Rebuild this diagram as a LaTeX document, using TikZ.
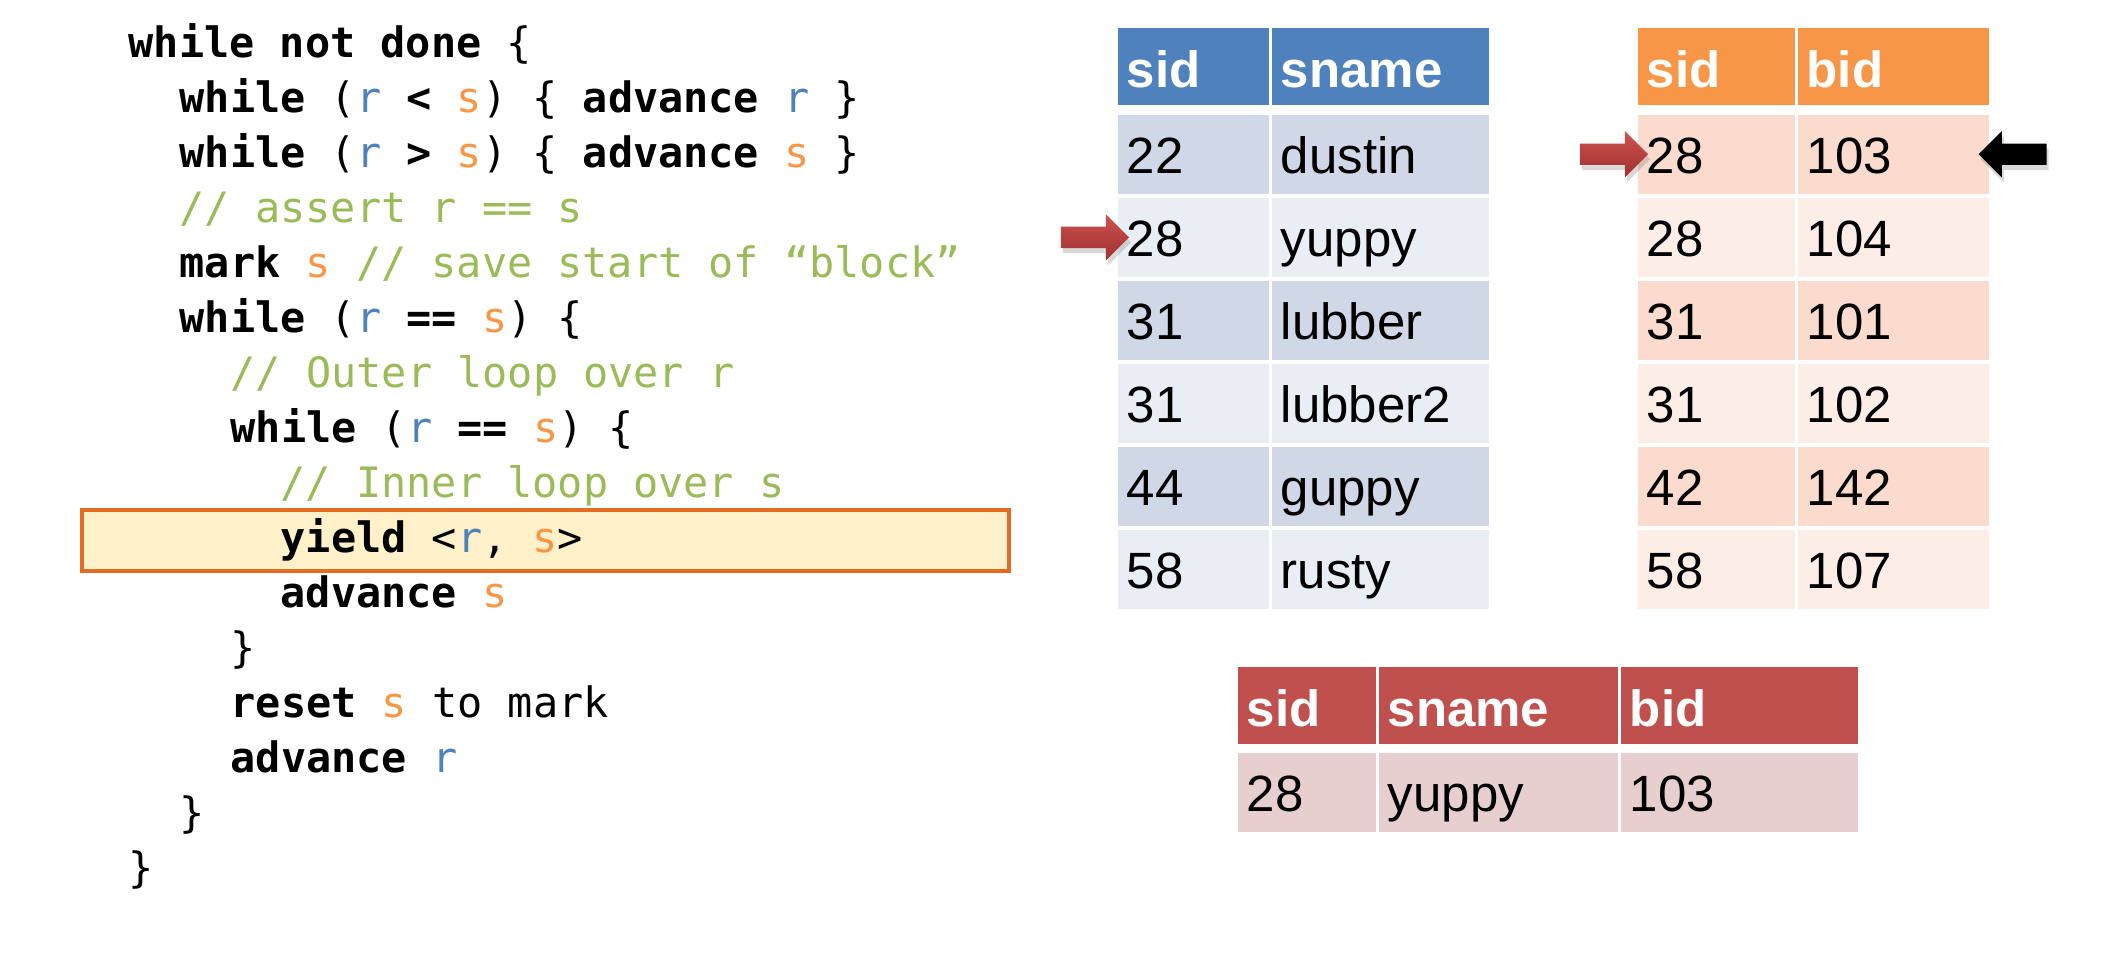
\documentclass[tikz,border=0pt]{standalone}
\usepackage{fontspec}
\setmainfont{Liberation Sans}
\newfontfamily\codefont{DejaVu Sans Mono}
\usetikzlibrary{matrix,positioning,shapes.arrows,shadows}

\definecolor{sailHead}{HTML}{4F81BD}
\definecolor{sailDark}{HTML}{D0D8E8}
\definecolor{sailLight}{HTML}{E9EDF4}
\definecolor{resHead}{HTML}{F79646}
\definecolor{resDark}{HTML}{FADBCD}
\definecolor{resLight}{HTML}{FCEDE7}
\definecolor{joinHead}{HTML}{C0504D}
\definecolor{joinRow}{HTML}{E7CFCF}
\definecolor{rBlue}{HTML}{4F81BD}
\definecolor{sOrange}{HTML}{F79646}
\definecolor{cmtGreen}{HTML}{9BBB59}
\definecolor{boxFill}{HTML}{FEF0C9}
\definecolor{boxLine}{HTML}{E46C22}
\definecolor{ptrTop}{HTML}{CB5350}
\definecolor{ptrBot}{HTML}{A0302E}

\newcommand{\kw}[1]{\textbf{#1}}
\newcommand{\rvar}[1]{\textcolor{rBlue}{#1}}
\newcommand{\svar}[1]{\textcolor{sOrange}{#1}}
\newcommand{\cmt}[1]{\textcolor{cmtGreen}{#1}}
\newcommand{\tabfont}{\fontsize{14.5pt}{17pt}\selectfont}

\tikzset{
  code/.style={anchor=base west, inner sep=0pt,
               font=\codefont\fontsize{11.9pt}{14pt}\selectfont},
  yieldbox/.style={fill=boxFill, draw=boxLine, line width=0.9pt},
  cell/.style={inner xsep=0.09cm, inner ysep=0pt, text height=0.40cm,
               text depth=0.02cm, minimum height=0.79cm, align=left,
               font=\tabfont},
  dbtable/.style n args={3}{matrix of nodes, anchor=north west,
               inner sep=0pt, column sep=0.03cm, row sep=0.04cm,
               nodes={cell, fill=#3},
               row 1/.style={nodes={fill=#1, text=white, minimum height=0.77cm,
                             text height=0.44cm, font=\tabfont\bfseries}},
               every even row/.style={nodes={fill=#2}}},
  ptr/.style={single arrow, anchor=tip, inner sep=0.1cm,
              single arrow head extend=0.125cm, minimum height=0.68cm,
              drop shadow={shadow xshift=0.02cm, shadow yshift=-0.05cm,
                           opacity=0.3}},
  redptr/.style={ptr, top color=ptrTop, bottom color=ptrBot},
  blackptr/.style={ptr, fill=black, shape border rotate=180}
}

\begin{document}
\begin{tikzpicture}[x=0.01cm, y=-0.01cm]
\useasboundingbox (0,0) rectangle (2106,974);

% merge join code
\draw[yieldbox] (82,510) rectangle (1009,571);
\node[code] (l1) at (128,58) {\kw{while not done} \{};
\node[code] (l2) at (179,113) {\kw{while} (\rvar{r} \kw{<} \svar{s}) \{ \kw{advance} \rvar{r} \}};
\node[code] (l3) at (179,168) {\kw{while} (\rvar{r} \kw{>} \svar{s}) \{ \kw{advance} \svar{s} \}};
\node[code] (l4) at (179,223) {\cmt{// assert r == s}};
\node[code] (l5) at (179,278) {\kw{mark} \svar{s} \cmt{// save start of “block”}};
\node[code] (l6) at (179,333) {\kw{while} (\rvar{r} \kw{==} \svar{s}) \{};
\node[code] (l7) at (230,388) {\cmt{// Outer loop over r}};
\node[code] (l8) at (230,443) {\kw{while} (\rvar{r} \kw{==} \svar{s}) \{};
\node[code] (l9) at (280,498) {\cmt{// Inner loop over s}};
\node[code] (l10) at (280,553) {\kw{yield} <\rvar{r}, \svar{s}>};
\node[code] (l11) at (280,608) {\kw{advance} \svar{s}};
\node[code] (l12) at (230,663) {\}};
\node[code] (l13) at (230,718) {\kw{reset} \svar{s} to mark};
\node[code] (l14) at (230,773) {\kw{advance} \rvar{r}};
\node[code] (l15) at (179,828) {\}};
\node[code] (l16) at (128,883) {\}};

% relations
\matrix (sailors) [dbtable={sailHead}{sailDark}{sailLight},
  column 1/.style={nodes={text width=1.33cm}},
  column 2/.style={nodes={text width=1.99cm}}] at (1117,27) {
  sid & sname \\[0.06cm]
  22 & dustin \\
  28 & yuppy \\
  31 & lubber \\
  31 & lubber2 \\
  44 & guppy \\
  58 & rusty \\
};
\matrix (reserves) [dbtable={resHead}{resDark}{resLight},
  column 1/.style={nodes={text width=1.39cm}},
  column 2/.style={nodes={text width=1.73cm}}] at (1637,27) {
  sid & bid \\[0.06cm]
  28 & 103 \\
  28 & 104 \\
  31 & 101 \\
  31 & 102 \\
  42 & 142 \\
  58 & 107 \\
};
\matrix (joined) [dbtable={joinHead}{joinRow}{joinRow},
  column 1/.style={nodes={text width=1.20cm}},
  column 2/.style={nodes={text width=2.21cm}},
  column 3/.style={nodes={text width=2.19cm}}] at (1237,666) {
  sid & sname & bid \\[0.05cm]
  28 & yuppy & 103 \\
};

% cursors
\node[redptr, xshift=0.13cm] (markR) at (sailors-3-1.west) {};
\node[redptr, xshift=0.12cm] (markS) at (reserves-2-1.west) {};
\node[blackptr, xshift=-0.12cm] (curS) at (reserves-2-2.east) {};
\end{tikzpicture}
\end{document}
